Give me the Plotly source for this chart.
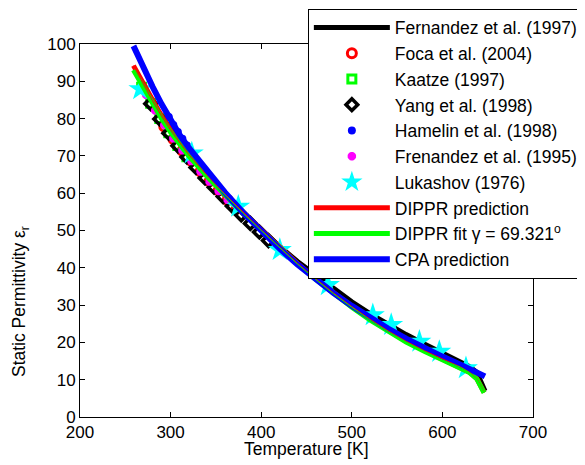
import plotly.graph_objects as go

# ---------------- data ----------------
fern_T = [273, 280, 300, 320, 340, 360, 380, 400, 420, 440, 460, 480, 500, 520, 540, 560, 580, 600, 620, 630, 638, 643, 647]
fern_e = [87.0, 84.4, 77.0, 70.6, 64.8, 59.4, 54.5, 50.0, 45.8, 41.7, 38.0, 34.3, 30.9, 27.7, 24.8, 22.1, 19.6, 17.2, 14.9, 13.5, 12.0, 9.5, 7.0]

foca_T = [293, 303, 313, 323, 333, 343, 353, 363, 373]
foca_e = [77.9, 74.5, 71.4, 68.6, 65.8, 63.2, 60.7, 58.2, 55.8]

kaatze_T = [268, 278, 288, 298, 308, 318]
kaatze_e = [88.4, 84.1, 80.0, 76.2, 72.8, 69.8]

yang_T = [278, 288, 298, 308, 318, 328, 338, 348, 358, 368, 378, 388, 398, 408]
yang_e = [84.0, 79.9, 76.1, 72.7, 69.7, 66.9, 64.1, 61.6, 59.1, 56.6, 54.2, 51.9, 49.6, 47.3]

hamelin_T = [298, 303, 308, 313, 318]
hamelin_e = [80.4, 78.3, 76.4, 74.6, 72.8]

fren_T = [273, 283, 293, 303, 313, 323, 333, 343, 353, 363]
fren_e = [86.4, 82.2, 78.3, 74.7, 71.5, 68.6, 65.8, 63.1, 60.6, 58.2]

luka_T = [266.6, 323.4, 374.7, 420.6, 473.7, 523.2, 543.5, 574.6, 596.6, 626.0]
luka_e = [87.9, 70.7, 56.4, 44.8, 35.4, 27.3, 24.7, 20.2, 17.5, 13.1]

pred_T = [259, 270, 280, 290, 300, 320, 340, 360, 380, 400, 420, 440, 460, 480, 500, 520, 540, 560, 580, 600, 620, 630, 638, 642, 646]
dippr_e = [94.2, 89.2, 84.8, 80.7, 76.9, 70.4, 64.8, 59.7, 54.9, 50.2, 45.6, 41.2, 37.1, 33.2, 29.6, 26.2, 23.1, 20.3, 17.8, 15.5, 13.4, 12.0, 10.3, 8.7, 6.6]
fit_e = [93.0, 88.3, 84.0, 80.0, 76.3, 70.0, 64.5, 59.5, 54.6, 50.0, 45.4, 41.0, 36.9, 33.0, 29.4, 26.0, 22.9, 20.1, 17.6, 15.3, 13.3, 11.9, 10.2, 8.6, 6.5]

cpa_T = [259, 270, 280, 290, 300, 310, 320, 340, 360, 380, 400, 420, 440, 460, 480, 500, 520, 540, 560, 580, 600, 620, 640, 647]
cpa_e = [99.5, 93.6, 88.6, 83.9, 79.5, 75.6, 72.2, 66.0, 60.2, 54.8, 49.8, 45.2, 40.9, 36.9, 33.2, 29.8, 26.6, 23.7, 21.0, 18.5, 16.2, 14.0, 11.8, 10.9]

x_ticks = [200, 300, 400, 500, 600, 700]
y_ticks = [0, 10, 20, 30, 40, 50, 60, 70, 80, 90, 100]

RED, GREEN, BLUE = "#FF0000", "#00FF00", "#0000FF"
FONT = "Liberation Sans, Arial, sans-serif"

fig = go.Figure()
fig.add_trace(go.Scatter(x=fern_T, y=fern_e, mode="lines", name="Fernandez et al. (1997)",
                         line=dict(color="black", width=5)))
fig.add_trace(go.Scatter(x=foca_T, y=foca_e, mode="markers", name="Foca et al. (2004)",
                         marker=dict(symbol="circle-open", size=9, color=RED, line=dict(width=3, color=RED))))
fig.add_trace(go.Scatter(x=kaatze_T, y=kaatze_e, mode="markers", name="Kaatze (1997)",
                         marker=dict(symbol="square-open", size=8, color=GREEN, line=dict(width=3, color=GREEN))))
fig.add_trace(go.Scatter(x=yang_T, y=yang_e, mode="markers", name="Yang et al. (1998)",
                         marker=dict(symbol="diamond-open", size=9, color="black", line=dict(width=3.5, color="black"))))
fig.add_trace(go.Scatter(x=hamelin_T, y=hamelin_e, mode="markers", name="Hamelin et al. (1998)",
                         marker=dict(symbol="circle", size=8, color=BLUE)))
fig.add_trace(go.Scatter(x=fren_T, y=fren_e, mode="markers", name="Frenandez et al. (1995)",
                         marker=dict(symbol="asterisk-open", size=7, color="#FF00FF", line=dict(width=3, color="#FF00FF"))))
fig.add_trace(go.Scatter(x=luka_T, y=luka_e, mode="markers", name="Lukashov (1976)",
                         marker=dict(symbol="star", size=18, color="#00FFFF", line=dict(width=0))))
fig.add_trace(go.Scatter(x=pred_T, y=dippr_e, mode="lines", name="DIPPR prediction",
                         line=dict(color=RED, width=5)))
fig.add_trace(go.Scatter(x=pred_T, y=fit_e, mode="lines", name="DIPPR fit γ = 69.321<sup>o</sup>",
                         line=dict(color=GREEN, width=5)))
fig.add_trace(go.Scatter(x=cpa_T, y=cpa_e, mode="lines", name="CPA prediction",
                         line=dict(color=BLUE, width=6)))
# thin overlays of the DIPPR curves on top of the CPA curve
fig.add_trace(go.Scatter(x=pred_T, y=dippr_e, mode="lines", showlegend=False, hoverinfo="skip",
                         line=dict(color=RED, width=1)))
fig.add_trace(go.Scatter(x=pred_T, y=fit_e, mode="lines", showlegend=False, hoverinfo="skip",
                         line=dict(color=GREEN, width=1)))

axis_common = dict(showline=True, linecolor="black", linewidth=1, mirror="ticks",
                   ticks="inside", ticklen=5, tickwidth=1, tickcolor="black",
                   showgrid=False, zeroline=False,
                   tickfont=dict(family=FONT, size=17, color="black"))

fig.update_xaxes(range=[200, 700], tickvals=x_ticks, ticktext=[str(v) for v in x_ticks], **axis_common)
fig.update_yaxes(range=[0, 100], tickvals=y_ticks, ticktext=[str(v) for v in y_ticks], **axis_common)

fig.add_annotation(text="Temperature [K]", xref="paper", yref="paper",
                   x=0.499, y=-0.087, xanchor="center", yanchor="middle",
                   showarrow=False, font=dict(family=FONT, size=17.5, color="black"))
fig.add_annotation(text="Static Permittivity ε<sub>r</sub>", xref="paper", yref="paper",
                   x=-0.131, y=0.31, xanchor="center", yanchor="middle", textangle=-90,
                   showarrow=False, font=dict(family=FONT, size=17.5, color="black"))

fig.update_layout(
    width=577, height=457,
    margin=dict(l=71.5, r=51.5, t=36, b=48, pad=0, autoexpand=False),
    paper_bgcolor="white", plot_bgcolor="white",
    font=dict(family=FONT, size=17, color="black"),
    legend=dict(x=0.503, y=1.095, xanchor="left", yanchor="top",
                bgcolor="white", bordercolor="black", borderwidth=1,
                font=dict(family=FONT, size=17.5, color="black"),
                itemwidth=76, maxheight=400),
    showlegend=True,
)

fig.write_html("out.html")
